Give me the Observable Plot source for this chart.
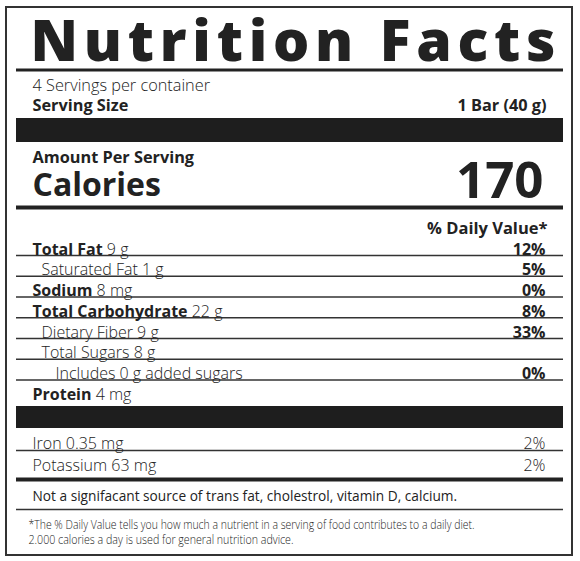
<!DOCTYPE html>
<html>
<head>
<meta charset="utf-8">
<script src="https://cdn.jsdelivr.net/npm/d3@7"></script>
<script src="https://cdn.jsdelivr.net/npm/@observablehq/plot@0.6"></script>
<style>
  body { margin: 0; background: #fff; }
  #chart svg { display: block; }
</style>
</head>
<body>
<div id="chart"></div>
<script>
// label content
const title = "Nutrition Facts";
const servingsText = "4 Servings per container";
const servingLabel = "Serving Size";
const servingValue = "1 Bar (40 g)";
const amountLabel = "Amount Per Serving";
const caloriesLabel = "Calories";
const calories = "170";
const dvHeader = "% Daily Value*";

const nutrients = ["Total Fat", "Saturated Fat", "Sodium", "Total Carbohydrate", "Dietary Fiber", "Total Sugars", "Includes 0 g added sugars", "Protein"];
const amounts = ["9 g", "1 g", "8 mg", "22 g", "9 g", "8 g", "", "4 mg"];
const dailyValues = ["12%", "5%", "0%", "8%", "33%", "", "0%", ""];
const levels = [0, 1, 0, 0, 1, 1, 2, 0];

const minerals = ["Iron", "Potassium"];
const mineralAmounts = ["0.35 mg", "63 mg"];
const mineralValues = ["2%", "2%"];

const notSource = "Not a signifacant source of trans fat, cholestrol, vitamin D, calcium.";
const footnotes = [
  "*The % Daily Value tells you how much a nutrient in a serving of food contributes to a daily diet.",
  "2.000 calories a day is used for general nutrition advice."
];

// layout
const W = 580, H = 561;
const L = 16, R = 563, TX = 32, VX = 545;
const ink = "#222";
const font = "Open Sans";
const rowY0 = 254, rowStep = 20.75;
const indentX = [TX, 41, 55];

const ctx = document.createElement("canvas").getContext("2d");
const measure = (s, weight, size) => { ctx.font = `${weight} ${size}px "${font}"`; return ctx.measureText(s).width; };

const rows = nutrients.map((name, i) => {
  const bold = levels[i] === 0;
  const x = indentX[levels[i]];
  const y = rowY0 + i * rowStep;
  return {
    name: bold ? name : (amounts[i] ? name + " " + amounts[i] : name),
    amount: bold ? amounts[i] : "",
    dv: dailyValues[i],
    bold, x, y,
    ax: x + measure(name, 700, 16) + measure(" ", 300, 16)
  };
});
const rowLines = rows.slice(0, 7).map(r => r.y + 1);

const mins = minerals.map((m, i) => ({text: m + " " + mineralAmounts[i], dv: mineralValues[i], y: 448 + i * 22}));

const txt = (data, o) => Plot.text(data, {lineAnchor: "bottom", fill: ink, fontFamily: font, ...o});

const chart = Plot.plot({
  width: W,
  height: H,
  margin: 0,
  x: {domain: [0, W], range: [0, W], axis: null},
  y: {domain: [0, H], range: [0, H], axis: null},
  style: {fontFamily: font, background: "#fff"},
  marks: [
    // outer border
    Plot.rect([0], {x1: 6, x2: 572, y1: 7, y2: 555, fill: "none", stroke: "#333", strokeWidth: 2}),
    // black bands
    Plot.rect([[118, 142], [406, 428]], {x1: L, x2: R, y1: d => d[0], y2: d => d[1], fill: "#1e1e1e"}),
    // rules
    Plot.ruleY([69.5], {x1: L, x2: R, stroke: ink, strokeWidth: 3}),
    Plot.ruleY([207, 479], {x1: L, x2: R, stroke: ink, strokeWidth: 4}),
    Plot.ruleY([...rowLines, 450, 509], {x1: L, x2: R, stroke: "#333", strokeWidth: 1.3}),
    // header
    txt([title], {text: d => d, x: 30, y: 60, textAnchor: "start", fontSize: 57, fontWeight: 800}),
    txt([servingsText], {text: d => d, x: TX, y: 90, textAnchor: "start", fontSize: 16.3, fontWeight: 300}),
    txt([servingLabel], {text: d => d, x: TX, y: 110, textAnchor: "start", fontSize: 16.3, fontWeight: 700}),
    txt([servingValue], {text: d => d, x: 546, y: 110, textAnchor: "end", fontSize: 16.3, fontWeight: 700}),
    txt([amountLabel], {text: d => d, x: TX, y: 162, textAnchor: "start", fontSize: 16.3, fontWeight: 700}),
    txt([caloriesLabel], {text: d => d, x: TX, y: 195, textAnchor: "start", fontSize: 32, fontWeight: 700}),
    txt([calories], {text: d => d, x: 543, y: 197, textAnchor: "end", fontSize: 51, fontWeight: 700}),
    txt([dvHeader], {text: d => d, x: 547, y: 233, textAnchor: "end", fontSize: 16.5, fontWeight: 700}),
    // nutrient rows
    txt(rows.filter(r => r.bold), {text: "name", x: "x", y: "y", textAnchor: "start", fontSize: 16, fontWeight: 700}),
    txt(rows.filter(r => r.bold), {text: "amount", x: "ax", y: "y", textAnchor: "start", fontSize: 16, fontWeight: 300}),
    txt(rows.filter(r => !r.bold), {text: "name", x: "x", y: "y", textAnchor: "start", fontSize: 16, fontWeight: 300}),
    txt(rows, {text: "dv", x: VX, y: "y", textAnchor: "end", fontSize: 16, fontWeight: 700}),
    // minerals
    txt(mins, {text: "text", x: TX, y: "y", textAnchor: "start", fontSize: 16, fontWeight: 300}),
    txt(mins, {text: "dv", x: VX, y: "y", textAnchor: "end", fontSize: 16, fontWeight: 300}),
    // footer
    txt([notSource], {text: d => d, x: TX, y: 500, textAnchor: "start", fontSize: 13.7, fontWeight: 400}),
    txt(footnotes, {text: d => d, x: 28, y: (d, i) => 528 + i * 15, textAnchor: "start", fontSize: 12, fontWeight: 300})
  ]
});

// spread the title and squeeze the footnote like the printed label
const fit = {[title]: [525, "spacing"], [footnotes[0]]: [446, "spacingAndGlyphs"], [footnotes[1]]: [265, "spacingAndGlyphs"]};
d3.select(chart).selectAll("text").each(function () {
  const f = fit[this.textContent];
  if (f) d3.select(this).attr("textLength", f[0]).attr("lengthAdjust", f[1]);
});

d3.select("#chart").append(() => chart);
</script>
</body>
</html>
